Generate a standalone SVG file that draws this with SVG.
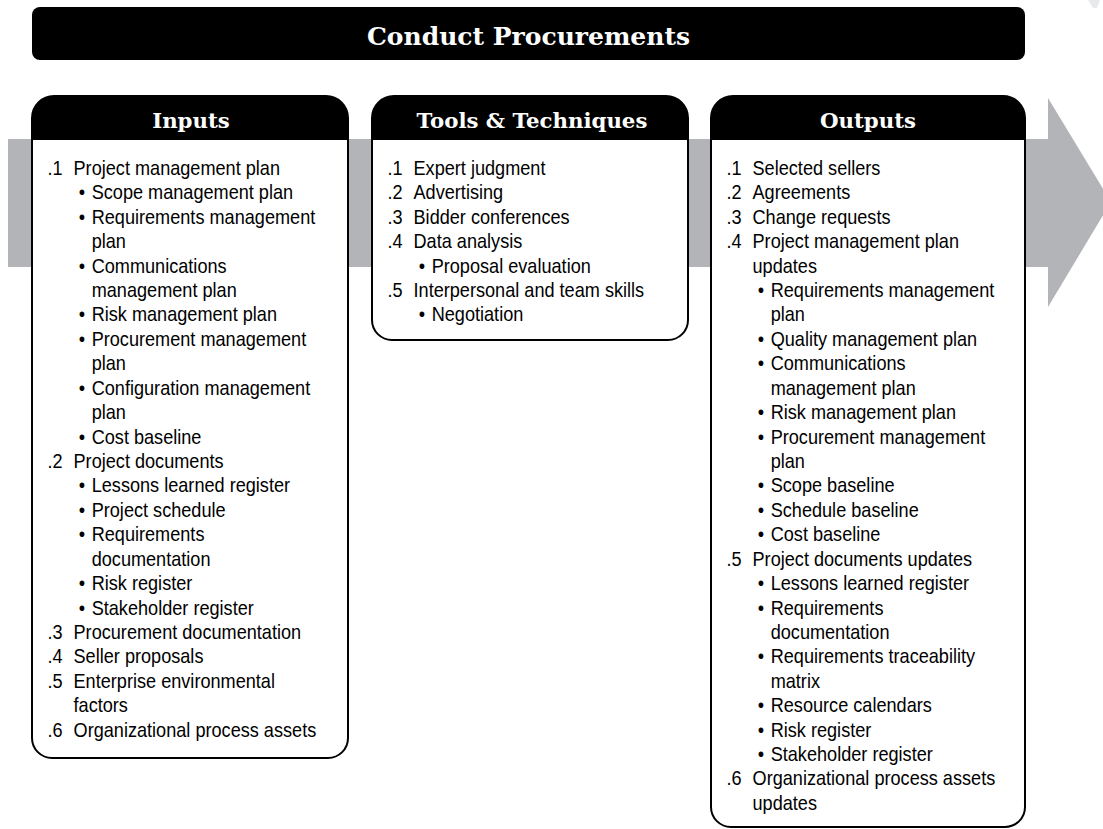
<svg xmlns="http://www.w3.org/2000/svg" width="1103" height="829" viewBox="0 0 1103 829">
<style>
.band{fill:#b2b4b7}
.box{fill:#fff;stroke:#000;stroke-width:2}
.head{fill:#000}
.ht{font-family:"DejaVu Serif",serif;font-weight:bold;font-size:21.3px;fill:#fff;text-anchor:middle}
.tt{font-family:"DejaVu Serif",serif;font-weight:bold;font-size:25px;fill:#fff;text-anchor:middle}
.li{font-family:"Liberation Sans",Arial,sans-serif;font-size:19.5px;fill:#000}
</style>
<rect x="0" y="0" width="1103" height="829" fill="#fff"/>
<g id="flow-arrow">
<rect class="band" x="8" y="139" width="1041" height="128"/>
<polygon class="band" points="1048,98 1111,202 1048,307"/>
<polygon fill="#e8e9ea" points="1088,0 1100,0 1097,8 1093,8"/>
</g>
<g id="title">
<rect x="32" y="7" width="993" height="53" rx="8" fill="#000"/>
<text class="tt" x="528.5" y="45">Conduct Procurements</text>
</g>
<g id="inputs">
<path class="box" d="M32,118 A22,22 0 0 1 54,96 H326 A22,22 0 0 1 348,118 V738 A20,20 0 0 1 328,758 H52 A20,20 0 0 1 32,738 Z"/>
<path class="head" d="M32,140 V118 A22,22 0 0 1 54,96 H326 A22,22 0 0 1 348,118 V140 Z"/>
<text class="ht" x="191" y="128">Inputs</text>
<g class="li" transform="translate(47.5 0) scale(0.93 1)">
<text y="175"><tspan x="0">.1</tspan><tspan x="28">Project management plan</tspan></text>
<text y="199.4"><tspan x="33.5">•</tspan><tspan x="47.5">Scope management plan</tspan></text>
<text y="223.8"><tspan x="33.5">•</tspan><tspan x="47.5">Requirements management</tspan></text>
<text y="248.3"><tspan x="47.5">plan</tspan></text>
<text y="272.7"><tspan x="33.5">•</tspan><tspan x="47.5">Communications</tspan></text>
<text y="297.1"><tspan x="47.5">management plan</tspan></text>
<text y="321.5"><tspan x="33.5">•</tspan><tspan x="47.5">Risk management plan</tspan></text>
<text y="345.9"><tspan x="33.5">•</tspan><tspan x="47.5">Procurement management</tspan></text>
<text y="370.4"><tspan x="47.5">plan</tspan></text>
<text y="394.8"><tspan x="33.5">•</tspan><tspan x="47.5">Configuration management</tspan></text>
<text y="419.2"><tspan x="47.5">plan</tspan></text>
<text y="443.6"><tspan x="33.5">•</tspan><tspan x="47.5">Cost baseline</tspan></text>
<text y="468"><tspan x="0">.2</tspan><tspan x="28">Project documents</tspan></text>
<text y="492.5"><tspan x="33.5">•</tspan><tspan x="47.5">Lessons learned register</tspan></text>
<text y="516.9"><tspan x="33.5">•</tspan><tspan x="47.5">Project schedule</tspan></text>
<text y="541.3"><tspan x="33.5">•</tspan><tspan x="47.5">Requirements</tspan></text>
<text y="565.7"><tspan x="47.5">documentation</tspan></text>
<text y="590.1"><tspan x="33.5">•</tspan><tspan x="47.5">Risk register</tspan></text>
<text y="614.6"><tspan x="33.5">•</tspan><tspan x="47.5">Stakeholder register</tspan></text>
<text y="639"><tspan x="0">.3</tspan><tspan x="28">Procurement documentation</tspan></text>
<text y="663.4"><tspan x="0">.4</tspan><tspan x="28">Seller proposals</tspan></text>
<text y="687.8"><tspan x="0">.5</tspan><tspan x="28">Enterprise environmental</tspan></text>
<text y="712.2"><tspan x="28">factors</tspan></text>
<text y="736.7"><tspan x="0">.6</tspan><tspan x="28">Organizational process assets</tspan></text>
</g>
</g>
<g id="tools">
<path class="box" d="M372,118 A22,22 0 0 1 394,96 H666 A22,22 0 0 1 688,118 V320 A20,20 0 0 1 668,340 H392 A20,20 0 0 1 372,320 Z"/>
<path class="head" d="M372,140 V118 A22,22 0 0 1 394,96 H666 A22,22 0 0 1 688,118 V140 Z"/>
<text class="ht" x="532" y="128">Tools &amp; Techniques</text>
<g class="li" transform="translate(387.5 0) scale(0.93 1)">
<text y="175"><tspan x="0">.1</tspan><tspan x="28">Expert judgment</tspan></text>
<text y="199.4"><tspan x="0">.2</tspan><tspan x="28">Advertising</tspan></text>
<text y="223.8"><tspan x="0">.3</tspan><tspan x="28">Bidder conferences</tspan></text>
<text y="248.3"><tspan x="0">.4</tspan><tspan x="28">Data analysis</tspan></text>
<text y="272.7"><tspan x="33.5">•</tspan><tspan x="47.5">Proposal evaluation</tspan></text>
<text y="297.1"><tspan x="0">.5</tspan><tspan x="28">Interpersonal and team skills</tspan></text>
<text y="321.5"><tspan x="33.5">•</tspan><tspan x="47.5">Negotiation</tspan></text>
</g>
</g>
<g id="outputs">
<path class="box" d="M711,118 A22,22 0 0 1 733,96 H1003 A22,22 0 0 1 1025,118 V807 A20,20 0 0 1 1005,827 H731 A20,20 0 0 1 711,807 Z"/>
<path class="head" d="M711,140 V118 A22,22 0 0 1 733,96 H1003 A22,22 0 0 1 1025,118 V140 Z"/>
<text class="ht" x="868" y="128">Outputs</text>
<g class="li" transform="translate(726.5 0) scale(0.93 1)">
<text y="175"><tspan x="0">.1</tspan><tspan x="28">Selected sellers</tspan></text>
<text y="199.4"><tspan x="0">.2</tspan><tspan x="28">Agreements</tspan></text>
<text y="223.8"><tspan x="0">.3</tspan><tspan x="28">Change requests</tspan></text>
<text y="248.3"><tspan x="0">.4</tspan><tspan x="28">Project management plan</tspan></text>
<text y="272.7"><tspan x="28">updates</tspan></text>
<text y="297.1"><tspan x="33.5">•</tspan><tspan x="47.5">Requirements management</tspan></text>
<text y="321.5"><tspan x="47.5">plan</tspan></text>
<text y="345.9"><tspan x="33.5">•</tspan><tspan x="47.5">Quality management plan</tspan></text>
<text y="370.4"><tspan x="33.5">•</tspan><tspan x="47.5">Communications</tspan></text>
<text y="394.8"><tspan x="47.5">management plan</tspan></text>
<text y="419.2"><tspan x="33.5">•</tspan><tspan x="47.5">Risk management plan</tspan></text>
<text y="443.6"><tspan x="33.5">•</tspan><tspan x="47.5">Procurement management</tspan></text>
<text y="468"><tspan x="47.5">plan</tspan></text>
<text y="492.5"><tspan x="33.5">•</tspan><tspan x="47.5">Scope baseline</tspan></text>
<text y="516.9"><tspan x="33.5">•</tspan><tspan x="47.5">Schedule baseline</tspan></text>
<text y="541.3"><tspan x="33.5">•</tspan><tspan x="47.5">Cost baseline</tspan></text>
<text y="565.7"><tspan x="0">.5</tspan><tspan x="28">Project documents updates</tspan></text>
<text y="590.1"><tspan x="33.5">•</tspan><tspan x="47.5">Lessons learned register</tspan></text>
<text y="614.6"><tspan x="33.5">•</tspan><tspan x="47.5">Requirements</tspan></text>
<text y="639"><tspan x="47.5">documentation</tspan></text>
<text y="663.4"><tspan x="33.5">•</tspan><tspan x="47.5">Requirements traceability</tspan></text>
<text y="687.8"><tspan x="47.5">matrix</tspan></text>
<text y="712.2"><tspan x="33.5">•</tspan><tspan x="47.5">Resource calendars</tspan></text>
<text y="736.7"><tspan x="33.5">•</tspan><tspan x="47.5">Risk register</tspan></text>
<text y="761.1"><tspan x="33.5">•</tspan><tspan x="47.5">Stakeholder register</tspan></text>
<text y="785.5"><tspan x="0">.6</tspan><tspan x="28">Organizational process assets</tspan></text>
<text y="809.9"><tspan x="28">updates</tspan></text>
</g>
</g>
</svg>
